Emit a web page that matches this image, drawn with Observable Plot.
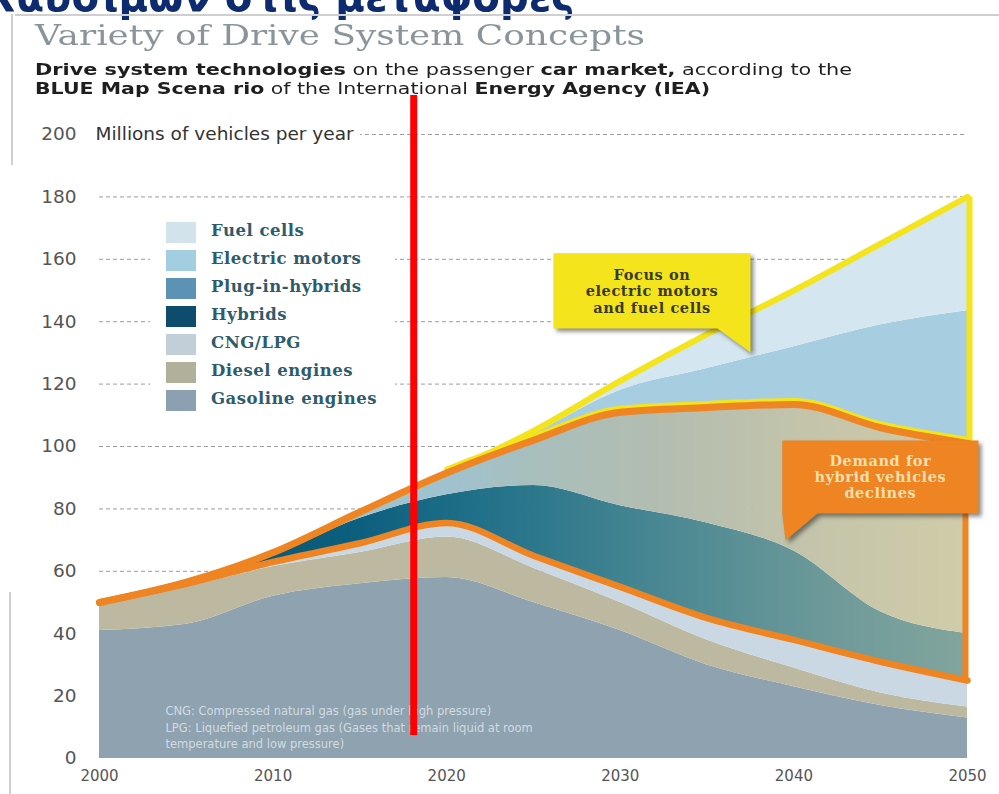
<!DOCTYPE html>
<html>
<head>
<meta charset="utf-8">
<script src="https://cdn.jsdelivr.net/npm/d3@7"></script>
<script src="https://cdn.jsdelivr.net/npm/@observablehq/plot@0.6"></script>
<style>
  html, body { margin: 0; padding: 0; background: #fff; }
  body { width: 999px; height: 794px; overflow: hidden; position: relative; font-family: "DejaVu Sans", sans-serif; }
  .abs { position: absolute; white-space: nowrap; }
  #greek { left: -12px; top: -30px; font: bold 44px "DejaVu Sans", sans-serif; color: #0d2b6e; }
  #title { left: 35px; top: 19px; font: 28px "DejaVu Serif", serif; color: #8a959b; }
  .desc { left: 35px; font-size: 16.5px; color: #1e1e1e; font-family: "DejaVu Sans", sans-serif; }
  #desc1 { top: 60px; }
  #desc2 { top: 79px; }
  .desc b { font-weight: bold; }
  #chart { position: absolute; left: 0; top: 90px; }
  #legend { position: absolute; left: 150px; top: 214px; width: 245px; height: 206px; background: #fff; }
  .li { position: absolute; left: 16px; height: 21px; }
  .sw { position: absolute; left: 0; top: 0; width: 30px; height: 21px; }
  .lt { position: absolute; left: 45px; top: -1px; font: bold 16.5px "DejaVu Serif", serif; letter-spacing: 0.5px; color: #2d5c6c; white-space: nowrap; }
  .frame { position: absolute; background: #cfcfcf; }
  g[aria-description="callout"] path { filter: drop-shadow(3px 3px 2px rgba(40,40,40,0.55)); }
  g[aria-description="callout text"] text { letter-spacing: 0.6px; }
</style>
</head>
<body>
<div id="greek" class="abs">καυσίμων στις μεταφορές</div>
<div class="frame" style="left:15px;top:14px;width:984px;height:2px;"></div>
<div class="frame" style="left:11px;top:14px;width:2px;height:151px;"></div>
<div class="frame" style="left:9px;top:592px;width:2px;height:202px;"></div>
<div id="title" class="abs">Variety of Drive System Concepts</div>
<div id="desc1" class="abs desc"><b>Drive system technologies</b> on the passenger <b>car market,</b> according to the</div>
<div id="desc2" class="abs desc"><b>BLUE Map Scena rio</b> of the International <b>Energy Agency (IEA)</b></div>
<div id="chart"></div>
<div id="legend"></div>
<script>
// ---------------- data ----------------
const years = [2000, 2005, 2010, 2015, 2020, 2025, 2030, 2035, 2040, 2045, 2050];
const gasoline  = [41, 43, 52, 56, 58, 50, 41, 30, 23, 17, 13];
const diesel    = [8.5, 12, 9.5, 10, 13, 11, 9, 8, 6, 4, 3.5];
const cngLpg    = [0.5, 1, 1.5, 3, 4.5, 4, 5, 7, 9, 10, 8.5];
const hybrids   = [0, 0, 2, 8, 9, 22.5, 26, 30.5, 28.5, 16, 15];
const plugIn    = [0, 0.5, 1, 2, 7, 14.5, 30, 37, 47, 59, 61];
const electric  = [0, 0, 0, 0, 0, 2, 7, 12.5, 18.5, 33, 42.5];
const fuelCells = [0, 0, 0, 0, 0, 1, 3, 11, 18, 26, 36.5];

const seriesNames = ["Gasoline engines", "Diesel engines", "CNG/LPG", "Hybrids", "Plug-in-hybrids", "Electric motors", "Fuel cells"];
const seriesValues = [gasoline, diesel, cngLpg, hybrids, plugIn, electric, fuelCells];
const areaColors = ["#8ea2b0", "#bdb9a1", "#c9d8e3", "url(#gradHybrid)", "url(#gradPlugin)", "#a7cde0", "#d4e6ef"];
const legendNames = ["Fuel cells", "Electric motors", "Plug-in-hybrids", "Hybrids", "CNG/LPG", "Diesel engines", "Gasoline engines"];
const legendColors = ["#d3e3ec", "#a3cde0", "#5c93b5", "#0d4c6c", "#c2cfd8", "#b0b09b", "#8ba1b2"];

const yTicks = [0, 20, 40, 60, 80, 100, 120, 140, 160, 180, 200];
const xTicks = [2000, 2010, 2020, 2030, 2040, 2050];
const unitLabel = "Millions of vehicles per year";
const footnote = "CNG: Compressed natural gas (gas under high pressure)\nLPG: Liquefied petroleum gas (Gases that remain liquid at room\ntemperature and low pressure)";
const footnoteAnchor = {year: 2003.8, value: 17.5};

const calloutFocus = {text: "Focus on\nelectric motors\nand fuel cells", x1: 2026.15, x2: 2037.5, y1: 137.8, y2: 161.9, tailX: 2035.6, tipX: 2037.5, tipY: 130.1};
const calloutDemand = {text: "Demand for\nhybrid vehicles\ndeclines", x1: 2039.33, x2: 2050.63, y1: 78.5, y2: 101.9, tailX: 2041.36, tipX: 2039.52, tipY: 69.9};
const redMarker = {year: 2018.1, top: 212.5, bottom: 7.4};

// ---------------- derived tables ----------------
const rows = [];
seriesNames.forEach((s, i) => years.forEach((yr, j) => rows.push({year: yr, series: s, value: seriesValues[i][j]})));
const cum = k => years.map((yr, j) => ({year: yr, value: d3.sum(seriesValues.slice(0, k), a => a[j]), upper: electric[j] + fuelCells[j]}));
const lowerOrange = cum(3);
const upperOrange = cum(5);
const totalTop = cum(7);
const last = years.length - 1;
// yellow lower edge only where the electric group has started (plus the point before it)
const firstUpper = upperOrange.findIndex(d => d.upper > 0);
const yellowLower = upperOrange.slice(Math.max(0, firstUpper - 1));

const polyFocus = [
  [calloutFocus.x1, calloutFocus.y2], [calloutFocus.x2, calloutFocus.y2], [calloutFocus.tipX, calloutFocus.tipY],
  [calloutFocus.tailX, calloutFocus.y1], [calloutFocus.x1, calloutFocus.y1]
];
const polyDemand = [
  [calloutDemand.x1, calloutDemand.y2], [calloutDemand.x2, calloutDemand.y2], [calloutDemand.x2, calloutDemand.y1],
  [calloutDemand.tailX, calloutDemand.y1], [calloutDemand.tipX, calloutDemand.tipY], [calloutDemand.x1, calloutDemand.y1]
];

const ORANGE = "#ee8422", YELLOW = "#f4e41c";
const curve = "monotone-x";

const chart = Plot.plot({
  width: 999,
  height: 704,
  marginLeft: 99,
  marginRight: 32,
  marginTop: 44,
  marginBottom: 36,
  x: {domain: [2000, 2050], axis: null},
  y: {domain: [0, 200], axis: null},
  color: {domain: seriesNames, range: areaColors},
  style: {fontFamily: "DejaVu Sans, sans-serif", overflow: "visible", background: "transparent"},
  marks: [
    Plot.ruleY(yTicks.filter(d => d > 0), {stroke: "#9c9c9c", strokeWidth: 1, strokeDasharray: "4,3"}),
    Plot.text([{y: 200, label: unitLabel}], {y: "y", text: "label", frameAnchor: "left", textAnchor: "start", dx: -4, fill: "#333", stroke: "white", strokeWidth: 14, fontSize: 18.5}),
    Plot.areaY(rows, {x: "year", y: "value", z: "series", fill: "series", order: seriesNames, curve}),
    // yellow outline of electric + fuel cells
    Plot.line(totalTop, {x: "year", y: "value", stroke: YELLOW, strokeWidth: 6, curve}),
    Plot.line(yellowLower, {x: "year", y: "value", stroke: YELLOW, strokeWidth: 5, dy: -4, curve}),
    Plot.ruleX([years[last]], {y1: upperOrange[last].value, y2: totalTop[last].value, stroke: YELLOW, strokeWidth: 6, dx: 2}),
    // orange outline of hybrids + plug-ins
    Plot.line(upperOrange, {x: "year", y: "value", stroke: ORANGE, strokeWidth: 7, curve}),
    Plot.line(lowerOrange, {x: "year", y: "value", stroke: ORANGE, strokeWidth: 6.5, curve}),
    Plot.ruleX([years[last]], {y1: lowerOrange[last].value, y2: upperOrange[last].value, stroke: ORANGE, strokeWidth: 6, dx: -2}),
    // footnote
    Plot.text([footnote], {x: () => footnoteAnchor.year, y: () => footnoteAnchor.value, text: d => d, textAnchor: "start", lineAnchor: "top", lineHeight: 1.42, fontSize: 11.5, fill: "#dfe6ec", fillOpacity: 0.85}),
    // callouts
    Plot.line(polyFocus, {x: d => d[0], y: d => d[1], fill: YELLOW, stroke: "none", curve: "linear-closed", ariaDescription: "callout"}),
    Plot.text([calloutFocus], {x: d => (d.x1 + d.x2) / 2, y: d => (d.y1 + d.y2) / 2, text: "text", fontSize: 14.5, fontWeight: "bold", fontFamily: "DejaVu Serif, serif", fill: "#3a3a2c", lineHeight: 1.14, ariaDescription: "callout text"}),
    Plot.line(polyDemand, {x: d => d[0], y: d => d[1], fill: ORANGE, stroke: "none", curve: "linear-closed", ariaDescription: "callout"}),
    Plot.text([calloutDemand], {x: d => (d.x1 + d.x2) / 2, y: d => (d.y1 + d.y2) / 2, text: "text", fontSize: 14.5, fontWeight: "bold", fontFamily: "DejaVu Serif, serif", fill: "#f7dfae", lineHeight: 1.12, ariaDescription: "callout text"}),
    // tick labels
    Plot.text(yTicks, {y: d => d, text: d => String(d), frameAnchor: "left", dx: -23, textAnchor: "end", fontSize: 18.5, fill: "#555"}),
    Plot.text(xTicks, {x: d => d, text: d => String(d), frameAnchor: "bottom", dy: 22, fontSize: 15, fill: "#555"}),
    // red marker
    Plot.ruleX([redMarker.year], {y1: redMarker.top, y2: redMarker.bottom, stroke: "#ff0000", strokeWidth: 7})
  ]
});

// gradients for the faded hybrid / plug-in areas
const NS = "http://www.w3.org/2000/svg";
const defs = document.createElementNS(NS, "defs");
function grad(id, stops) {
  const g = document.createElementNS(NS, "linearGradient");
  g.setAttribute("id", id);
  g.setAttribute("x1", "0"); g.setAttribute("x2", "1"); g.setAttribute("y1", "0"); g.setAttribute("y2", "0");
  stops.forEach(([o, c]) => {
    const s = document.createElementNS(NS, "stop");
    s.setAttribute("offset", o); s.setAttribute("stop-color", c);
    g.appendChild(s);
  });
  defs.appendChild(g);
}
grad("gradHybrid", [[0, "#07506f"], [0.3, "#0c5f7e"], [0.45, "#23728a"], [0.65, "#4a8893"], [0.85, "#6f9a99"], [1, "#82a59d"]]);
grad("gradPlugin", [[0, "#9fc3d2"], [0.4, "#9fc2cf"], [0.5, "#a8bfbc"], [0.65, "#b3bdb0"], [0.82, "#c4c4aa"], [1, "#d0cca8"]]);
chart.insertBefore(defs, chart.firstChild);
document.getElementById("chart").appendChild(chart);

// legend
const legend = document.getElementById("legend");
legendNames.forEach((name, i) => {
  const item = document.createElement("div");
  item.className = "li";
  item.style.top = (8 + i * 28) + "px";
  item.innerHTML = `<div class="sw" style="background:${legendColors[i]}"></div><div class="lt">${name}</div>`;
  legend.appendChild(item);
});

// fit header texts to their measured widths in the reference
function fit(id, w) {
  const el = document.getElementById(id);
  const r = el.getBoundingClientRect().width;
  el.style.transformOrigin = "0 0";
  el.style.transform = `scaleX(${w / r})`;
}
fit("greek", 587);
fit("title", 610);
fit("desc1", 817);
fit("desc2", 675);
</script>
</body>
</html>
